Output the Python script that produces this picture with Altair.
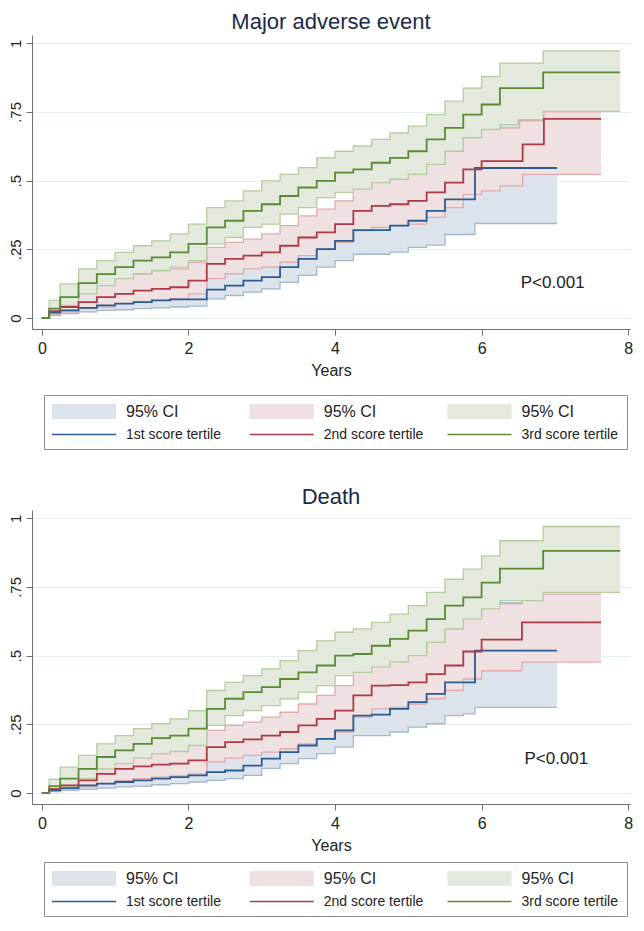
import altair as alt
import pandas as pd

# ---------------- data ----------------
GRID = [0, 0.1, 0.25, 0.5, 0.75, 1.0, 1.25, 1.5, 1.75, 2.0, 2.25, 2.5, 2.75,
        3.0, 3.25, 3.5, 3.75, 4.0, 4.25, 4.5, 4.75, 5.0, 5.25, 5.5, 5.75]

# Major adverse event
MAE_G_EST = [0, .034, .076, .127, .16, .185, .209, .221, .239, .27, .33, .354, .39, .414, .444, .475, .499, .529, .541, .565, .583, .607, .65, .692, .74]
MAE_G_EST_TAIL = [(6.0, .777), (6.25, .837), (6.84, .894), (7.89, .894)]
MAE_G_HI = [0, .064, .124, .179, .209, .239, .263, .281, .306, .342, .402, .426, .463, .499, .523, .547, .583, .607, .626, .65, .674, .698, .74, .789, .837]
MAE_G_HI_TAIL = [(6.0, .879), (6.25, .928), (6.84, .972), (7.89, .972)]
MAE_G_LO = [0, .015, .046, .088, .118, .143, .161, .173, .185, .209, .27, .293, .33, .342, .378, .402, .438, .457, .469, .493, .505, .523, .559, .607, .656]
MAE_G_LO_TAIL = [(6.0, .686), (6.25, .704), (6.5, .722), (6.84, .752), (7.89, .752)]

MAE_R_EST = [0, .025, .04, .058, .076, .088, .1, .106, .112, .136, .197, .215, .227, .239, .263, .293, .312, .342, .39, .408, .414, .426, .457, .493, .541]
MAE_R_EST_TAIL = [(6.0, .571), (6.56, .632), (6.85, .725), (7.63, .725)]
MAE_R_HI = [0, .04, .07, .1, .13, .149, .161, .173, .179, .203, .257, .275, .287, .306, .336, .372, .396, .426, .475, .511, .523, .547, .589, .644, .686]
MAE_R_HI_TAIL = [(6.0, .692), (6.52, .718), (6.85, .75), (7.63, .75)]
MAE_R_LO = [0, .012, .022, .034, .04, .052, .058, .064, .07, .088, .143, .161, .179, .185, .203, .227, .251, .275, .318, .33, .336, .342, .366, .402, .45]
MAE_R_LO_TAIL = [(6.0, .463), (6.25, .481), (6.56, .523), (7.63, .523)]

MAE_B_EST = [0, .02, .028, .037, .046, .052, .058, .064, .068, .068, .103, .118, .136, .149, .185, .215, .251, .281, .32, .32, .336, .354, .39, .432, .432]
MAE_B_EST_TAIL = [(5.91, .546), (7.03, .546)]
MAE_B_HI = [0, .03, .046, .058, .07, .076, .086, .094, .1, .106, .149, .167, .185, .203, .239, .27, .312, .348, .39, .402, .426, .463, .523, .583, .668]
MAE_B_HI_TAIL = [(5.91, .692), (6.25, .717), (7.03, .717)]
MAE_B_LO = [0, .01, .016, .022, .028, .03, .034, .037, .04, .043, .07, .082, .094, .106, .13, .155, .185, .209, .232, .232, .24, .257, .265, .304, .304]
MAE_B_LO_TAIL = [(5.91, .344), (7.03, .344)]

# Death
DEA_G_EST = [0, .025, .052, .088, .131, .155, .179, .2, .209, .234, .306, .343, .367, .385, .415, .439, .464, .5, .506, .536, .561, .591, .633, .682, .712]
DEA_G_EST_TAIL = [(6.0, .766), (6.25, .817), (6.84, .881), (7.89, .881)]
DEA_G_HI = [0, .05, .094, .137, .179, .209, .234, .252, .27, .3, .373, .403, .427, .452, .482, .518, .554, .585, .597, .621, .651, .682, .73, .778, .815]
DEA_G_HI_TAIL = [(6.0, .863), (6.25, .918), (6.84, .97), (7.89, .97)]
DEA_G_LO = [0, .008, .022, .052, .088, .107, .127, .143, .151, .173, .246, .282, .3, .318, .343, .367, .391, .427, .439, .458, .476, .5, .548, .597, .633]
DEA_G_LO_TAIL = [(6.0, .67), (6.25, .7), (6.84, .73), (7.89, .73)]

DEA_R_EST = [0, .015, .028, .046, .07, .088, .097, .103, .107, .119, .167, .185, .195, .209, .222, .246, .27, .3, .355, .391, .393, .403, .433, .464, .515]
DEA_R_EST_TAIL = [(6.0, .558), (6.55, .621), (7.63, .621)]
DEA_R_HI = [0, .025, .046, .082, .113, .137, .149, .157, .161, .179, .228, .246, .258, .276, .294, .324, .355, .391, .439, .482, .494, .512, .554, .597, .645]
DEA_R_HI_TAIL = [(6.0, .688), (6.55, .724), (7.63, .724)]
DEA_R_LO = [0, .006, .016, .022, .034, .046, .052, .058, .062, .07, .113, .127, .137, .149, .161, .179, .197, .222, .276, .306, .312, .324, .343, .373, .415]
DEA_R_LO_TAIL = [(6.0, .445), (6.55, .476), (7.63, .476)]

DEA_B_EST = [0, .01, .018, .028, .034, .04, .046, .052, .058, .064, .076, .082, .1, .125, .149, .173, .197, .228, .282, .285, .306, .331, .361, .403, .403]
DEA_B_EST_TAIL = [(5.91, .518), (7.03, .518)]
DEA_B_HI = [0, .018, .03, .042, .052, .062, .067, .074, .082, .094, .119, .137, .161, .191, .215, .24, .27, .306, .367, .379, .403, .439, .482, .548, .609]
DEA_B_HI_TAIL = [(5.91, .633), (6.25, .693), (7.03, .693)]
DEA_B_LO = [0, .005, .01, .013, .018, .022, .025, .03, .034, .04, .046, .052, .064, .09, .107, .125, .143, .167, .209, .209, .222, .24, .252, .282, .288]
DEA_B_LO_TAIL = [(5.91, .312), (7.03, .312)]

TITLES = ["Major adverse event", "Death"]
P_LABEL = "P<0.001"
P_POS = [(6.97, 0.127), (7.02, 0.125)]

LEGEND_CI_LABELS = ["95% CI", "95% CI", "95% CI"]
LEGEND_LINE_LABELS = ["1st score tertile", "2nd score tertile", "3rd score tertile"]

X_TICKS = [0, 2, 4, 6, 8]
Y_TICKS = [0, 0.25, 0.5, 0.75, 1]

# ---------------- style ----------------
FONT = "Liberation Sans"
LINE_COLORS = ["#2a5b93", "#ad3a47", "#5b8a32"]
FILL_COLORS = ["#dde3eb", "#efe0e1", "#e4e9dd"]
EDGE_COLORS = ["#a3b7cf", "#e2a9ae", "#b6cb9f"]
TEXT_COLOR = "#222222"
TITLE_COLOR = "#1b2a4a"
AXIS_COLOR = "#707070"
X_DOMAIN = [-0.135, 8.025]
Y_DOMAIN = [-0.04, 1.03]
PLOT_W, PLOT_H = 598, 294


def step_series(vals, tail):
    return GRID + [p[0] for p in tail], vals + [p[1] for p in tail]


def value_at(ts, vs, x):
    out = vs[0]
    for a, b in zip(ts, vs):
        if a <= x:
            out = b
    return out


def band_frame(lo, lo_tail, hi, hi_tail):
    tl, vl = step_series(lo, lo_tail)
    th, vh = step_series(hi, hi_tail)
    times = sorted(set(tl) | set(th))
    return pd.DataFrame({
        "t": times,
        "lo": [value_at(tl, vl, x) for x in times],
        "hi": [value_at(th, vh, x) for x in times],
    })


def panel(title, series, ppos):
    xs = alt.Scale(domain=X_DOMAIN, nice=False, zero=False)
    ys = alt.Scale(domain=Y_DOMAIN, nice=False, zero=False)
    x_axis = alt.Axis(values=X_TICKS, title="Years", grid=False, labelFlush=False,
                      labelFontSize=16, titleFontSize=16, tickSize=6, labelPadding=5,
                      titlePadding=6, domainColor=AXIS_COLOR, tickColor=AXIS_COLOR,
                      labelColor=TEXT_COLOR, titleColor=TEXT_COLOR, titleFontWeight="normal",
                      labelFont=FONT, titleFont=FONT)
    y_axis = alt.Axis(values=Y_TICKS, title=None, grid=True, gridColor="#e3edf0",
                      labelAngle=270, labelAlign="center", labelBaseline="bottom",
                      labelExpr="replace(format(datum.value, '~g'), '0.', '.')",
                      labelFontSize=15, tickSize=6, labelPadding=3,
                      domainColor=AXIS_COLOR, tickColor=AXIS_COLOR,
                      labelColor=TEXT_COLOR, labelFont=FONT)
    X = alt.X("t:Q", scale=xs, axis=x_axis)

    def Y(f):
        return alt.Y(f, scale=ys, axis=y_axis)

    layers = []
    for i, (est, est_tail, lo, lo_tail, hi, hi_tail) in enumerate(series):
        band = band_frame(lo, lo_tail, hi, hi_tail)
        layers.append(alt.Chart(band).mark_area(interpolate="step-after", color=FILL_COLORS[i])
                      .encode(x=X, y=Y("lo:Q"), y2="hi:Q"))
        tl, vl = step_series(lo, lo_tail)
        th, vh = step_series(hi, hi_tail)
        edges = pd.DataFrame({"t": tl + th, "v": vl + vh,
                              "kind": ["lo"] * len(tl) + ["hi"] * len(th)})
        layers.append(alt.Chart(edges).mark_line(interpolate="step-after", color=EDGE_COLORS[i],
                                                 strokeWidth=1.3)
                      .encode(x=X, y=Y("v:Q"), detail="kind:N"))
    for i, (est, est_tail, *_rest) in enumerate(series):
        te, ve = step_series(est, est_tail)
        layers.append(alt.Chart(pd.DataFrame({"t": te, "v": ve}))
                      .mark_line(interpolate="step-after", color=LINE_COLORS[i], strokeWidth=1.8)
                      .encode(x=X, y=Y("v:Q")))
    layers.append(alt.Chart(pd.DataFrame({"t": [ppos[0]], "v": [ppos[1]], "label": [P_LABEL]}))
                  .mark_text(fontSize=17, font=FONT, color=TEXT_COLOR)
                  .encode(x=X, y=Y("v:Q"), text="label:N"))
    return alt.layer(*layers).properties(
        width=PLOT_W, height=PLOT_H,
        title=alt.TitleParams(text=title, fontSize=22, font=FONT, color=TITLE_COLOR,
                              fontWeight="normal", anchor="middle", frame="group", offset=1))


def legend_chart():
    df = pd.DataFrame({"col": [0, 1, 2], "ci": LEGEND_CI_LABELS, "lab": LEGEND_LINE_LABELS,
                       "fill": FILL_COLORS, "line": LINE_COLORS})
    x0, dx, sw, tdx = 20, 197.75, 64, 74
    base = alt.Chart(df).transform_calculate(
        x0=f"{x0} + datum.col * {dx}",
        x1=f"{x0} + datum.col * {dx} + {sw}",
        xt=f"{x0} + datum.col * {dx} + {tdx}")
    box = alt.Chart(pd.DataFrame({"a": [0]})).mark_rect(
        fill="white", stroke="#8c8c8c", strokeWidth=1).encode(
        x=alt.value(12.5), x2=alt.value(595.5), y=alt.value(0.5), y2=alt.value(54.5))
    swatch = base.mark_rect().encode(
        x=alt.X("x0:Q", scale=None), x2="x1:Q", y=alt.value(9), y2=alt.value(24),
        fill=alt.Fill("fill:N", scale=None))
    ci = base.mark_text(align="left", baseline="middle", fontSize=16, font=FONT,
                        color=TEXT_COLOR).encode(
        x=alt.X("xt:Q", scale=None), y=alt.value(16.5), text="ci:N")
    ln = base.mark_rule(strokeWidth=1.5).encode(
        x=alt.X("x0:Q", scale=None), x2="x1:Q", y=alt.value(39.5),
        color=alt.Color("line:N", scale=None))
    lt = base.mark_text(align="left", baseline="middle", fontSize=14, font=FONT,
                        color=TEXT_COLOR).encode(
        x=alt.X("xt:Q", scale=None), y=alt.value(40), text="lab:N")
    return alt.layer(box, swatch, ci, ln, lt).properties(width=PLOT_W, height=55)


mae = [(MAE_B_EST, MAE_B_EST_TAIL, MAE_B_LO, MAE_B_LO_TAIL, MAE_B_HI, MAE_B_HI_TAIL),
       (MAE_R_EST, MAE_R_EST_TAIL, MAE_R_LO, MAE_R_LO_TAIL, MAE_R_HI, MAE_R_HI_TAIL),
       (MAE_G_EST, MAE_G_EST_TAIL, MAE_G_LO, MAE_G_LO_TAIL, MAE_G_HI, MAE_G_HI_TAIL)]
dea = [(DEA_B_EST, DEA_B_EST_TAIL, DEA_B_LO, DEA_B_LO_TAIL, DEA_B_HI, DEA_B_HI_TAIL),
       (DEA_R_EST, DEA_R_EST_TAIL, DEA_R_LO, DEA_R_LO_TAIL, DEA_R_HI, DEA_R_HI_TAIL),
       (DEA_G_EST, DEA_G_EST_TAIL, DEA_G_LO, DEA_G_LO_TAIL, DEA_G_HI, DEA_G_HI_TAIL)]

top = alt.vconcat(panel(TITLES[0], mae, P_POS[0]), legend_chart(), spacing=17)
bottom = alt.vconcat(panel(TITLES[1], dea, P_POS[1]), legend_chart(), spacing=9)

chart = (alt.vconcat(top, bottom, spacing=36)
         .properties(padding={"left": 0, "right": 0, "top": 3, "bottom": 0})
         .configure(font=FONT)
         .configure_view(strokeWidth=0))

chart.save("out.html", embed_options={"renderer": "svg", "actions": False})
